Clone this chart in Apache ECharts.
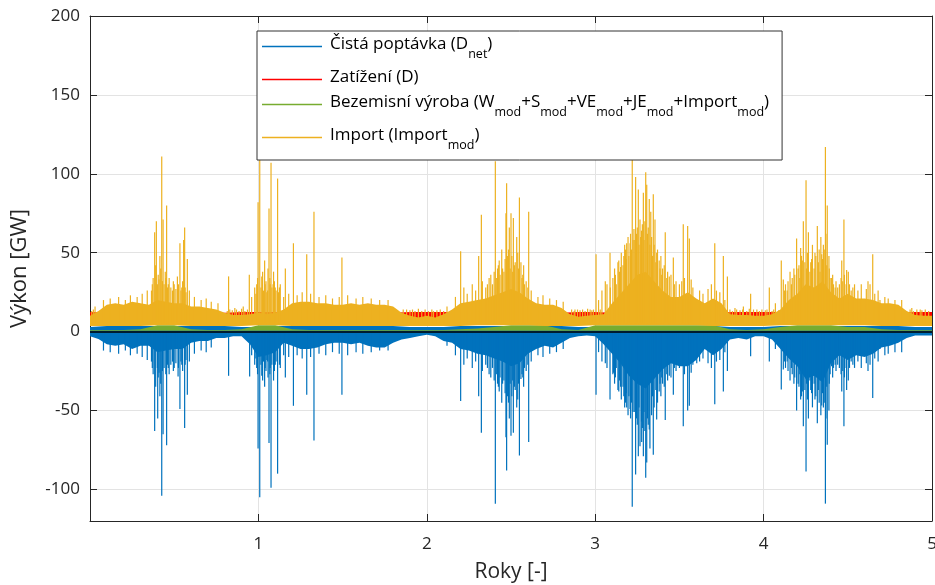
<!DOCTYPE html>
<html>
<head>
<meta charset="utf-8">
<script src="https://cdn.jsdelivr.net/npm/echarts@6/dist/echarts.min.js"></script>
<style>
  html, body { margin: 0; padding: 0; background: #fff; }
  #chart { width: 935px; height: 585px; }
</style>
</head>
<body>
<div id="chart"></div>
<script>
// ---- Envelopes of the dense hourly series, sampled every 0.05 year (t = 0 … 5) ----
const BAND_STEP = 0.05;
const importTop = [
  10, 13, 17, 18, 17, 19, 18, 17, 20, 19,
  18, 18, 16, 16, 15, 14, 12, 10.5, 10.5, 11,
  12, 11, 12, 14, 18, 19, 19, 18, 18, 17,
  17, 18, 17, 18, 17, 17, 16, 12, 10, 9,
  10, 9, 11, 14, 18, 19, 20, 21, 23, 25,
  27, 25, 21, 18, 17, 17, 15, 11, 9.5, 10,
  10.5, 11, 18, 24, 30, 36, 38, 32, 26, 22,
  22, 25, 21, 18, 21, 18, 11, 10.5, 10.5, 10,
  10, 11, 14, 20, 24, 30, 28, 32, 25, 21,
  24, 21, 21, 20, 18, 18, 17, 13, 10.5, 10, 10
];
const demandNetBottom = [
  -3, -4.6, -8, -9, -8, -11, -9, -9, -13, -12,
  -11, -11, -7, -6, -6, -4, -4, -3, -3, -8,
  -16, -15, -13, -7, -9, -11, -11, -10, -8, -7,
  -7, -8, -7, -9, -10, -10, -7, -5, -4, -3,
  -2, -3, -6, -7, -11, -12, -14, -15, -17, -19,
  -22, -20, -14, -11, -9, -10, -7, -4, -3, -2.5,
  -3, -8, -14, -20, -28, -33, -36, -30, -24, -20,
  -22, -22, -18, -11, -15, -11, -5, -4, -5, -3,
  -3, -5, -11, -17, -22, -30, -28, -32, -20, -15,
  -18, -15, -16, -14, -10, -9, -7, -4, -2.5, -2.5, -2.5
];

// ---- Smoother envelopes, sampled every 0.1 year (t = 0 … 5) ----
const COARSE_STEP = 0.1;
const importBottom = [
  3.5, 3.5, 3.5, 3.5, 4, 4, 3.5, 3.5, 3.5, 3.5,
  4, 4, 3.5, 3.5, 3.5, 3.5, 3.5, 3.5, 3.5, 3.5,
  3.5, 3.5, 3.5, 4, 4, 4, 4, 3.5, 3.5, 3.5,
  4, 4, 4, 4, 4, 4, 4, 3.5, 3.5, 3.5,
  3.5, 4, 4, 4, 4, 4, 4, 3.5, 3.5, 3.5, 3.5
];
const demandNetTop = [
  3, 3.5, 3.5, 3.5, 3.5, 3.5, 3.5, 3.5, 3.5, 3,
  3, 3.5, 3.5, 3.5, 3.5, 3.5, 3.5, 3.5, 3.5, 3,
  3, 3, 3.5, 3.5, 3.5, 3.5, 3.5, 3.5, 3.5, 3,
  3, 3.5, 3.5, 3.5, 3.5, 3.5, 3.5, 3.5, 3, 3,
  3, 3.5, 3.5, 3.5, 3.5, 3.5, 3.5, 3.5, 3.5, 3, 3
];
const loadTop = [
  12.5, 12, 12, 12, 12, 11.5, 11.5, 11.5, 12, 12.5,
  12.5, 12.5, 12, 12, 11.5, 11.5, 11.5, 11.5, 12, 12.5,
  12.5, 12.5, 12, 12, 12, 11.5, 11.5, 11.5, 12, 12.5,
  12.5, 12, 12, 12, 12, 11.5, 11.5, 11.5, 12.5, 12.5,
  12.5, 12.5, 12, 12, 12, 11.5, 11.5, 11.5, 12, 12.5, 12.5
];
const loadBottom = [
  6, 6, 6, 6, 6, 6, 6, 6, 6, 6,
  6, 6, 6, 6, 6, 6, 6, 6, 6, 6,
  6, 6, 6, 6, 6, 6, 6, 6, 6, 6,
  6, 6, 6, 6, 6, 6, 6, 6, 6, 6,
  6, 6, 6, 6, 6, 6, 6, 6, 6, 6, 6
];
const cleanTop = [
  1, 1, 1, 1.5, 4, 4, 1.5, 1, 1, 1.5,
  4, 4, 1.5, 1, 1, 1, 1, 1, 1, 1,
  1, 1, 1.5, 2, 3, 4, 4, 4, 1.5, 1,
  4, 4, 4, 4, 4, 4, 4, 4, 1.5, 1,
  1.5, 3, 4, 4, 4, 3, 3, 1.5, 1, 1, 1
];
const cleanBottom = [
  0.5, 0.5, 0.5, 0.5, 0.5, 0.5, 0.5, 0.5, 0.5, 0.5,
  0.5, 0.5, 0.5, 0.5, 0.5, 0.5, 0.5, 0.5, 0.5, 0.5,
  0.5, 0.5, 0.5, 0.5, 0.5, 0.5, 0.5, 0.5, 0.5, 0.5,
  0.5, 0.5, 0.5, 0.5, 0.5, 0.5, 0.5, 0.5, 0.5, 0.5,
  0.5, 0.5, 0.5, 0.5, 0.5, 0.5, 0.5, 0.5, 0.5, 0.5, 0.5
];

// ---- Individual hourly peaks [year, GW] ----
const importPeaks = [
  [0.01,13],[0.02,14],[0.03,16],[0.08,20],[0.12,21],[0.17,22],[0.21,20],[0.24,23],[0.28,22],[0.31,24],
  [0.34,26],[0.365,26],[0.37,30],[0.375,34],[0.384,63],[0.39,42],[0.394,70],[0.40,30],[0.405,36],[0.41,33],
  [0.415,48],[0.42,40],[0.426,111],[0.43,32],[0.434,71],[0.44,30],[0.447,38],[0.45,34],[0.455,80],[0.46,28],
  [0.465,30],[0.47,34],[0.48,28],[0.49,26],[0.495,32],[0.50,30],[0.51,27],[0.519,35],[0.525,30],[0.534,56],
  [0.54,26],[0.545,28],[0.55,32],[0.556,58],[0.562,66],[0.565,28],[0.57,25],[0.578,46],[0.59,26],[0.62,22],
  [0.66,20],[0.69,21],[0.72,19],[0.76,18],[0.815,13],[0.823,35],[0.83,14],[0.845,13.5],[0.86,15],[0.87,14],
  [0.885,13],[0.90,14.5],[0.91,16],[0.92,13],[0.935,14],[0.946,36],[0.96,22],[0.978,28],[0.985,24],[0.99,30],
  [0.995,34],[0.998,82],[1.008,109],[1.015,28],[1.02,35],[1.025,38],[1.03,26],[1.037,45],[1.04,30],[1.045,32],
  [1.05,25],[1.055,26],[1.057,40],[1.063,78],[1.068,34],[1.07,30],[1.075,107],[1.08,28],[1.087,30],[1.09,38],
  [1.095,32],[1.10,28],[1.105,26],[1.114,97],[1.12,25],[1.125,28],[1.13,30],[1.15,22],[1.16,40],[1.18,24],
  [1.208,56],[1.23,23],[1.26,25],[1.287,49],[1.31,24],[1.33,76],[1.36,22],[1.40,23],[1.44,21],[1.48,22],
  [1.496,47],[1.53,23],[1.58,21],[1.62,22],[1.67,21],[1.72,20],[1.77,20],[1.86,14],[1.88,14],[1.90,13.5],
  [1.915,14],[1.93,13],[1.95,14.5],[1.97,13],[1.99,14],[2.01,13],[2.03,14],[2.04,13],[2.06,13.5],[2.08,14],
  [2.10,13],[2.12,16],[2.17,22],[2.201,51],[2.22,28],[2.24,24],[2.27,30],[2.29,26],[2.308,48],[2.324,74],
  [2.33,32],[2.35,28],[2.36,30],[2.37,34],[2.38,36],[2.39,30],[2.40,38],[2.407,108],[2.415,34],[2.42,40],
  [2.425,42],[2.43,45],[2.435,36],[2.445,52],[2.45,40],[2.458,38],[2.465,46],[2.47,75],[2.474,94],[2.48,48],
  [2.485,52],[2.49,66],[2.495,40],[2.50,75],[2.505,48],[2.51,38],[2.514,72],[2.52,42],[2.525,44],[2.534,60],
  [2.54,50],[2.545,40],[2.55,85],[2.559,44],[2.565,34],[2.57,36],[2.575,42],[2.58,30],[2.59,32],[2.60,28],
  [2.605,76],[2.62,26],[2.66,22],[2.69,23],[2.73,21],[2.77,20],[2.81,19],[2.86,14],[2.875,13],[2.88,14],
  [2.895,14],[2.91,13.5],[2.925,14],[2.94,13],[2.955,14.5],[2.97,14],[2.98,13.5],[2.99,14],[3.005,49],[3.02,20],
  [3.03,14],[3.04,26],[3.06,32],[3.07,30],[3.088,50],[3.09,28],[3.105,34],[3.115,40],[3.12,36],[3.125,30],
  [3.135,44],[3.14,45],[3.145,38],[3.151,41],[3.155,50],[3.165,42],[3.17,48],[3.175,55],[3.18,52],[3.185,46],
  [3.187,56],[3.195,60],[3.20,48],[3.207,56],[3.21,62],[3.215,52],[3.22,109],[3.225,58],[3.23,65],[3.235,58],
  [3.24,98],[3.245,62],[3.25,66],[3.256,90],[3.26,55],[3.266,71],[3.27,60],[3.275,64],[3.28,68],[3.286,88],
  [3.29,58],[3.295,70],[3.30,101],[3.306,93],[3.31,62],[3.315,66],[3.321,84],[3.325,55],[3.33,76],[3.335,60],
  [3.34,48],[3.345,87],[3.35,55],[3.355,71],[3.36,44],[3.365,50],[3.37,52],[3.38,45],[3.385,40],[3.39,48],
  [3.395,36],[3.40,40],[3.41,42],[3.416,63],[3.425,34],[3.43,38],[3.44,35],[3.45,36],[3.464,47],[3.47,30],
  [3.48,32],[3.50,30],[3.514,32],[3.523,68],[3.53,34],[3.549,67],[3.559,59],[3.57,33],[3.58,28],[3.62,26],
  [3.64,24],[3.67,27],[3.69,30],[3.71,56],[3.72,26],[3.74,25],[3.761,48],[3.77,20],[3.785,35],[3.80,14],
  [3.815,13],[3.83,15],[3.84,14],[3.86,13.5],[3.875,14],[3.88,16],[3.90,13],[3.915,14.5],[3.923,24],[3.94,14],
  [3.96,14],[3.975,13],[3.99,14],[4.01,13.5],[4.02,14],[4.034,28],[4.05,13],[4.06,14],[4.07,18],[4.09,13.5],
  [4.105,45],[4.117,33],[4.125,26],[4.13,30],[4.14,26],[4.145,32],[4.157,38],[4.165,30],[4.17,34],[4.18,40],
  [4.185,36],[4.196,59],[4.205,40],[4.21,42],[4.215,34],[4.22,53],[4.225,48],[4.23,45],[4.236,70],[4.245,44],
  [4.252,96],[4.255,40],[4.26,50],[4.266,63],[4.275,38],[4.28,44],[4.285,46],[4.29,55],[4.30,40],[4.305,50],
  [4.31,48],[4.319,67],[4.325,44],[4.33,52],[4.335,38],[4.34,60],[4.345,49],[4.35,46],[4.355,55],[4.36,52],
  [4.367,117],[4.37,62],[4.375,42],[4.378,80],[4.388,48],[4.39,40],[4.395,34],[4.404,34],[4.41,36],[4.415,30],
  [4.425,28],[4.43,32],[4.44,28],[4.45,30],[4.46,34],[4.464,45],[4.47,32],[4.477,71],[4.48,36],[4.49,30],
  [4.493,39],[4.503,38],[4.51,30],[4.52,26],[4.53,28],[4.54,30],[4.56,26],[4.58,30],[4.61,27],[4.62,32],
  [4.632,30],[4.648,49],[4.66,24],[4.68,26],[4.691,20],[4.72,22],[4.74,21],[4.78,20],[4.82,20],[4.87,14],
  [4.88,15],[4.89,13],[4.91,14],[4.93,14],[4.94,13.5],[4.96,14],[4.98,13]
];
const demandNetPeaks = [
  [0.08,-12],[0.12,-13],[0.17,-14],[0.21,-12],[0.24,-15],[0.28,-14],[0.31,-16],[0.34,-18],[0.365,-19],[0.37,-23],
  [0.375,-27],[0.384,-63],[0.39,-35],[0.40,-23],[0.402,-55],[0.405,-29],[0.41,-26],[0.415,-41],[0.42,-33],[0.426,-104],
  [0.43,-25],[0.434,-65],[0.44,-23],[0.45,-27],[0.455,-72],[0.46,-21],[0.465,-23],[0.47,-27],[0.48,-21],[0.49,-19],
  [0.495,-25],[0.50,-23],[0.51,-20],[0.523,-28.5],[0.525,-23],[0.534,-49],[0.54,-19],[0.545,-21],[0.55,-25],[0.562,-61],
  [0.565,-21],[0.57,-18],[0.578,-40],[0.59,-19],[0.62,-14],[0.66,-12],[0.69,-13],[0.72,-10],[0.823,-28],[0.948,-28.5],
  [0.96,-15],[0.978,-21],[0.985,-17],[0.99,-23],[0.995,-27],[0.998,-74],[1.008,-105],[1.015,-21],[1.02,-28],[1.025,-31],
  [1.03,-19],[1.037,-35],[1.04,-23],[1.045,-25],[1.05,-18],[1.055,-19],[1.057,-29],[1.063,-70.5],[1.068,-27],[1.07,-23],
  [1.075,-99],[1.08,-21],[1.09,-31],[1.095,-25],[1.10,-21],[1.105,-19],[1.114,-90],[1.125,-21],[1.13,-23],[1.15,-15],
  [1.16,-29],[1.18,-16],[1.208,-47],[1.23,-15],[1.26,-17],[1.287,-40],[1.31,-16],[1.33,-69],[1.36,-14],[1.40,-15],
  [1.44,-13],[1.48,-14],[1.496,-40],[1.53,-15],[1.58,-13],[1.62,-14],[1.67,-13],[1.72,-12],[1.77,-12],[2.12,-9],
  [2.17,-15],[2.201,-44],[2.22,-21],[2.24,-17],[2.27,-23],[2.29,-19],[2.308,-41],[2.324,-64],[2.33,-25],[2.35,-21],
  [2.36,-23],[2.37,-27],[2.38,-29],[2.39,-23],[2.40,-31],[2.407,-109],[2.415,-27],[2.42,-33],[2.425,-35],[2.43,-38],
  [2.435,-29],[2.445,-45],[2.45,-33],[2.458,-31],[2.465,-39],[2.47,-67],[2.474,-88],[2.48,-41],[2.485,-45],[2.49,-55],
  [2.495,-33],[2.50,-66],[2.505,-41],[2.51,-31],[2.514,-64],[2.52,-35],[2.525,-37],[2.534,-48],[2.54,-43],[2.545,-33],
  [2.55,-78.5],[2.559,-30],[2.565,-27],[2.57,-29],[2.575,-35],[2.58,-23],[2.59,-25],[2.60,-21],[2.605,-70],[2.62,-19],
  [2.66,-15],[2.69,-16],[2.73,-14],[2.77,-13],[2.81,-11],[3.005,-40],[3.02,-13],[3.04,-19],[3.06,-20],[3.07,-23],
  [3.088,-43],[3.105,-27],[3.108,-26],[3.115,-33],[3.12,-29],[3.125,-23],[3.135,-37],[3.14,-38],[3.145,-31],[3.151,-35],
  [3.155,-43],[3.165,-35],[3.17,-41],[3.175,-48],[3.18,-45],[3.185,-39],[3.187,-48],[3.195,-53],[3.20,-41],[3.207,-49],
  [3.21,-55],[3.215,-45],[3.22,-111],[3.225,-51],[3.235,-51],[3.24,-90.5],[3.245,-55],[3.25,-59],[3.256,-79],[3.26,-48],
  [3.266,-72.6],[3.275,-57],[3.276,-70],[3.28,-61],[3.286,-79],[3.29,-51],[3.295,-63],[3.30,-92.6],[3.306,-83],[3.31,-55],
  [3.315,-59],[3.321,-62],[3.325,-74],[3.335,-53],[3.34,-41],[3.345,-78],[3.35,-48],[3.36,-37],[3.365,-55.7],[3.37,-45],
  [3.38,-38],[3.385,-33],[3.39,-41],[3.395,-29],[3.40,-33],[3.41,-35],[3.416,-56],[3.425,-27],[3.43,-31],[3.44,-28],
  [3.45,-29],[3.464,-40],[3.47,-23],[3.48,-25],[3.50,-23],[3.523,-60],[3.53,-27],[3.549,-50],[3.559,-47],[3.57,-26],
  [3.58,-21],[3.603,-20],[3.62,-19],[3.64,-17],[3.67,-20],[3.69,-23],[3.71,-46],[3.72,-19],[3.74,-18],[3.761,-38],
  [3.77,-13],[3.785,-25],[3.923,-15.6],[4.034,-19],[4.07,-11],[4.105,-36.7],[4.117,-24],[4.125,-19],[4.13,-23],[4.14,-19],
  [4.145,-25],[4.157,-31],[4.165,-23],[4.17,-27],[4.18,-33],[4.185,-29],[4.196,-50],[4.205,-33],[4.21,-35],[4.215,-27],
  [4.22,-43],[4.225,-41],[4.23,-38],[4.236,-60],[4.245,-37],[4.252,-88.6],[4.255,-33],[4.26,-43],[4.266,-55],[4.275,-31],
  [4.28,-37],[4.285,-39],[4.29,-48],[4.30,-33],[4.305,-43],[4.31,-41],[4.319,-58],[4.325,-37],[4.33,-45],[4.335,-31],
  [4.34,-53],[4.345,-46.8],[4.35,-39],[4.355,-48],[4.36,-45],[4.367,-109],[4.37,-55],[4.375,-35],[4.378,-71.7],[4.388,-50],
  [4.39,-33],[4.395,-27],[4.404,-22],[4.41,-29],[4.415,-23],[4.425,-21],[4.43,-25],[4.44,-21],[4.45,-23],[4.46,-27],
  [4.464,-38],[4.47,-25],[4.477,-60],[4.48,-29],[4.49,-23],[4.493,-37],[4.503,-31],[4.51,-23],[4.52,-19],[4.53,-21],
  [4.54,-23],[4.56,-19],[4.58,-23],[4.61,-20],[4.62,-25],[4.632,-21],[4.648,-42],[4.66,-17],[4.68,-19],[4.691,-11],
  [4.72,-15],[4.74,-14],[4.78,-13],[4.82,-13]
];

// ---- Axis ticks ----
const yTicks = [-100, -50, 0, 50, 100, 150, 200];
const xTicks = [1, 2, 3, 4, 5];

// ---- Series names and their legend labels (with subscripts) ----
const NAME_NET = 'Čistá poptávka (Dnet)';
const NAME_LOAD = 'Zatížení (D)';
const NAME_CLEAN = 'Bezemisní výroba (Wmod+Smod+VEmod+JEmod+Importmod)';
const NAME_IMPORT = 'Import (Importmod)';
const legendLabels = {};
legendLabels[NAME_NET] = '{m|Čistá poptávka (D}{s|net}{m|)}';
legendLabels[NAME_LOAD] = '{m|Zatížení (D)}';
legendLabels[NAME_CLEAN] = '{m|Bezemisní výroba (W}{s|mod}{m|+S}{s|mod}{m|+VE}{s|mod}{m|+JE}{s|mod}{m|+Import}{s|mod}{m|)}';
legendLabels[NAME_IMPORT] = '{m|Import (Import}{s|mod}{m|)}';

const C_NET = '#0072BD', C_LOAD = '#FF0000', C_CLEAN = '#77AC30', C_IMPORT = '#EDB120';
const FONT = '"Open Sans", "Noto Sans", sans-serif';
const AXIS_COLOR = '#262626';

// Filled envelope between a top and a bottom curve
function bandSeries(name, color, top, topStep, bottom, bottomStep, z) {
  return {
    type: 'custom', name: name, z: z, silent: true,
    data: [[0, 0]],
    itemStyle: { color: color },
    renderItem: function (params, api) {
      const pts = [];
      for (let i = 0; i < top.length; i++) pts.push(api.coord([i * topStep, top[i]]));
      for (let i = bottom.length - 1; i >= 0; i--) pts.push(api.coord([i * bottomStep, bottom[i]]));
      return { type: 'polygon', shape: { points: pts }, style: { fill: color } };
    }
  };
}

// Thin vertical strokes from a base level to each peak value
function peakSeries(name, color, peaks, base, z) {
  return {
    type: 'custom', name: name, z: z, silent: true,
    data: peaks,
    itemStyle: { color: color },
    renderItem: function (params, api) {
      const a = api.coord([api.value(0), base]);
      const b = api.coord([api.value(0), api.value(1)]);
      return {
        type: 'line',
        shape: { x1: a[0], y1: a[1], x2: b[0], y2: b[1] },
        style: { stroke: color, lineWidth: 1.2 }
      };
    }
  };
}

const chart = echarts.init(document.getElementById('chart'), null, { renderer: 'canvas' });

const option = {
  backgroundColor: '#fff',
  animation: false,
  textStyle: { fontFamily: FONT },
  grid: { left: 90, right: 3, top: 16, bottom: 64, containLabel: false, outerBoundsMode: 'none' },
  legend: {
    orient: 'vertical',
    left: 257, top: 31,
    z: 10,
    selectedMode: false,
    backgroundColor: '#fff',
    borderColor: '#333',
    borderWidth: 1,
    borderRadius: 0,
    padding: [5, 13, 8, 5],
    itemGap: 8,
    itemWidth: 60,
    itemHeight: 1.5,
    data: [
      { name: NAME_NET, icon: 'rect', itemStyle: { color: C_NET } },
      { name: NAME_LOAD, icon: 'rect', itemStyle: { color: C_LOAD } },
      { name: NAME_CLEAN, icon: 'rect', itemStyle: { color: C_CLEAN } },
      { name: NAME_IMPORT, icon: 'rect', itemStyle: { color: C_IMPORT } }
    ],
    formatter: function (name) { return legendLabels[name]; },
    textStyle: {
      padding: [0, 0, 0, 3],
      rich: {
        m: { fontFamily: FONT, fontSize: 17, lineHeight: 21, verticalAlign: 'top', color: '#000' },
        s: { fontFamily: FONT, fontSize: 12.5, lineHeight: 15, verticalAlign: 'top', color: '#000', padding: [12, 0, 0, 0] }
      }
    }
  },
  xAxis: [{
    type: 'value', min: 0, max: 5,
    name: 'Roky [-]', nameLocation: 'middle', nameGap: 41,
    nameTextStyle: { fontFamily: FONT, fontSize: 21, color: AXIS_COLOR },
    axisLine: { show: true, onZero: false, lineStyle: { color: AXIS_COLOR, width: 1 } },
    axisTick: { show: true, inside: true, length: 7, customValues: xTicks, lineStyle: { color: AXIS_COLOR } },
    axisLabel: { customValues: xTicks, fontFamily: FONT, fontSize: 17, color: AXIS_COLOR, margin: 15 },
    splitLine: { show: true, customValues: xTicks, lineStyle: { color: '#e3e3e3', width: 1 } }
  }, {
    type: 'value', min: 0, max: 5, position: 'top',
    axisLine: { show: true, onZero: false, lineStyle: { color: AXIS_COLOR, width: 1 } },
    axisTick: { show: true, inside: true, length: 7, customValues: xTicks, lineStyle: { color: AXIS_COLOR } },
    axisLabel: { show: false },
    splitLine: { show: false }
  }],
  yAxis: [{
    type: 'value', min: -120, max: 200,
    name: 'Výkon [GW]', nameLocation: 'middle', nameGap: 59,
    nameTextStyle: { fontFamily: FONT, fontSize: 22, color: AXIS_COLOR },
    axisLine: { show: true, onZero: false, lineStyle: { color: AXIS_COLOR, width: 1 } },
    axisTick: { show: true, inside: true, length: 7, customValues: yTicks, lineStyle: { color: AXIS_COLOR } },
    axisLabel: { customValues: yTicks, fontFamily: FONT, fontSize: 17, color: AXIS_COLOR, margin: 10 },
    splitLine: { show: true, customValues: yTicks, lineStyle: { color: '#e3e3e3', width: 1 } }
  }, {
    type: 'value', min: -120, max: 200, position: 'right',
    axisLine: { show: true, onZero: false, lineStyle: { color: AXIS_COLOR, width: 1 } },
    axisTick: { show: true, inside: true, length: 7, customValues: yTicks, lineStyle: { color: AXIS_COLOR } },
    axisLabel: { show: false },
    splitLine: { show: false }
  }],
  series: [
    bandSeries(NAME_NET, C_NET, demandNetTop, COARSE_STEP, demandNetBottom, BAND_STEP, 2),
    peakSeries(NAME_NET, C_NET, demandNetPeaks, 0, 2),
    bandSeries(NAME_LOAD, C_LOAD, loadTop, COARSE_STEP, loadBottom, COARSE_STEP, 3),
    bandSeries(NAME_CLEAN, C_CLEAN, cleanTop, COARSE_STEP, cleanBottom, COARSE_STEP, 4),
    bandSeries(NAME_IMPORT, C_IMPORT, importTop, BAND_STEP, importBottom, COARSE_STEP, 5),
    peakSeries(NAME_IMPORT, C_IMPORT, importPeaks, 5, 5),
    {
      type: 'line', name: 'nula', data: [], z: 6, silent: true,
      markLine: {
        silent: true, symbol: 'none', label: { show: false },
        lineStyle: { color: '#000', width: 1.5, type: 'solid' },
        data: [{ yAxis: 0 }]
      }
    }
  ]
};

chart.setOption(option);
</script>
</body>
</html>
